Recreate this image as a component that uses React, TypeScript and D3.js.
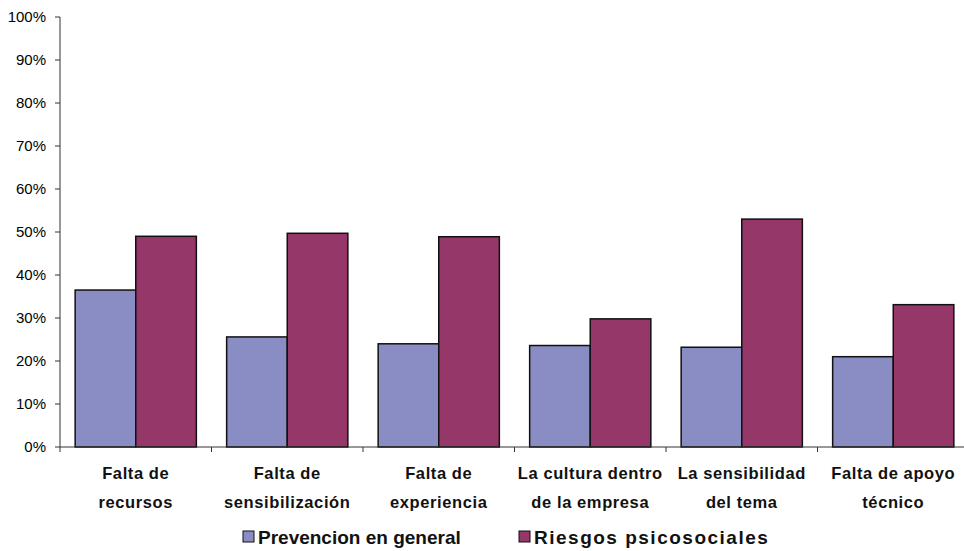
import React from "react";
import * as d3 from "d3";

const categories = [
  ["Falta de", "recursos"],
  ["Falta de", "sensibilización"],
  ["Falta de", "experiencia"],
  ["La cultura dentro", "de la empresa"],
  ["La sensibilidad", "del tema"],
  ["Falta de apoyo", "técnico"],
];
const seriesNames = ["Prevencion en general", "Riesgos psicosociales"];
const prevencion = [36.5, 25.6, 24.0, 23.6, 23.2, 21.0];
const riesgos = [49.0, 49.7, 48.9, 29.8, 53.0, 33.1];
const yTicks = [0, 10, 20, 30, 40, 50, 60, 70, 80, 90, 100];
const colors = ["#8A8DC3", "#953769"];

export default function App() {
  const W = 964, H = 551;
  const left = 60, right = 969, top = 17, bottom = 447;
  const x = d3.scaleBand<number>().domain(d3.range(categories.length)).range([left, right]).paddingInner(0).paddingOuter(0);
  const step = x.step();
  const y = d3.scaleLinear().domain([0, 100]).range([bottom, top]);
  const barW = step * 0.4;
  const offset = step * 0.1;
  const series = [prevencion, riesgos];
  const font = "Arial, 'Liberation Sans', sans-serif";
  const legendX = [243, 519];
  const legendSpacing = [0, 1.5];
  return (
    <svg width={W} height={H} style={{ position: "absolute", left: 0, top: 0 }} fontFamily={font}>
      <rect width={W} height={H} fill="#fff" />
      {series.map((vals, si) =>
        vals.map((v, i) => (
          <rect
            key={`${si}-${i}`}
            x={(x(i) as number) + offset + si * barW}
            y={y(v)}
            width={barW}
            height={y(0) - y(v)}
            fill={colors[si]}
            stroke="#111"
            strokeWidth={1.5}
          />
        ))
      )}
      <line x1={left} x2={left} y1={top} y2={bottom} stroke="#333" strokeWidth={1} />
      {yTicks.map((t) => (
        <g key={t}>
          <line x1={left - 5} x2={left} y1={y(t)} y2={y(t)} stroke="#333" />
          <text x={46} y={y(t)} dy="0.35em" textAnchor="end" fontSize={15} fill="#000">
            {t}%
          </text>
        </g>
      ))}
      <line x1={left} x2={W} y1={bottom} y2={bottom} stroke="#333" strokeWidth={1} />
      {d3.range(categories.length + 1).map((i) => (
        <line key={i} x1={left + i * step} x2={left + i * step} y1={bottom} y2={bottom + 5} stroke="#333" />
      ))}
      {categories.map((lines, i) => (
        <text key={i} textAnchor="middle" fontSize={16.5} fontWeight="bold" fill="#111">
          {lines.map((l, j) => (
            <tspan key={j} x={(x(i) as number) + step / 2} y={479 + j * 29} letterSpacing={0.6}>
              {l}
            </tspan>
          ))}
        </text>
      ))}
      {seriesNames.map((n, si) => (
        <g key={n}>
          <rect x={legendX[si]} y={531} width={11} height={11} fill={colors[si]} stroke="#111" strokeWidth={1} />
          <text x={legendX[si] + 15} y={544} fontSize={19} fontWeight="bold" fill="#111" letterSpacing={legendSpacing[si]}>
            {n}
          </text>
        </g>
      ))}
    </svg>
  );
}
